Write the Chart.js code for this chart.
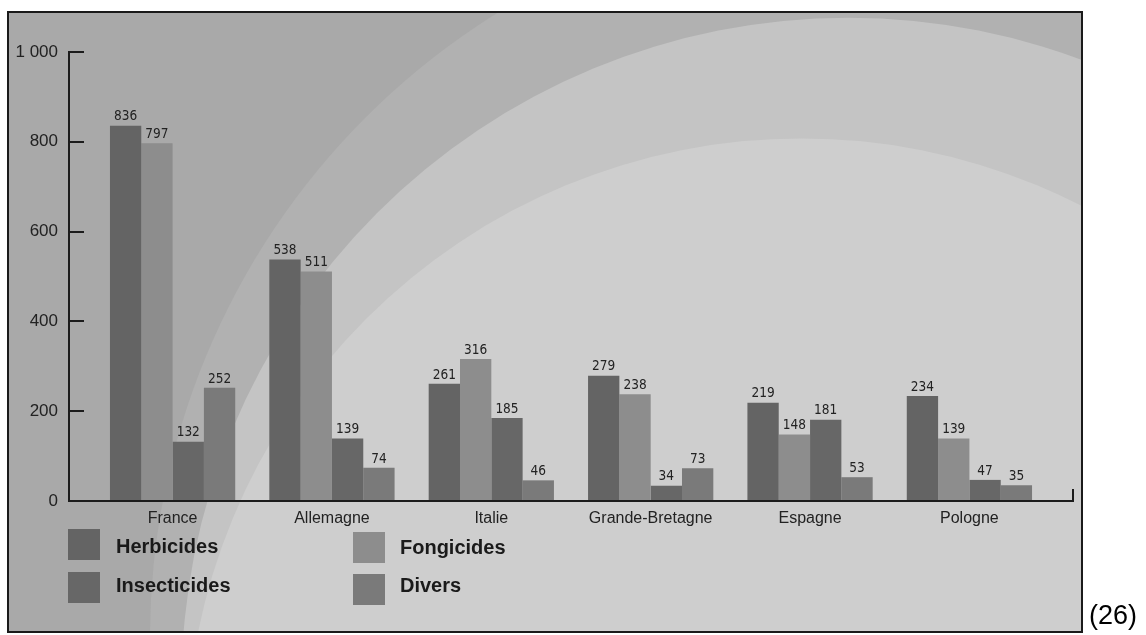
<!DOCTYPE html>
<html>
<head>
<meta charset="utf-8">
<title>Ventes de pesticides</title>
<script src="https://cdn.jsdelivr.net/npm/chart.js@4.4.1/dist/chart.umd.min.js"></script>
<style>
    html, body { margin: 0; padding: 0; background: #fff; }
    #wrap { position: relative; width: 1146px; height: 635px; }
</style>
</head>
<body>
<div id="wrap"><canvas id="pesticides-chart"></canvas></div>
<script>
    "use strict";

    var countries = ['France', 'Allemagne', 'Italie', 'Grande-Bretagne', 'Espagne', 'Pologne'];
    var herbicides = [836, 538, 261, 279, 219, 234];
    var fongicides = [797, 511, 316, 238, 148, 139];
    var insecticides = [132, 139, 185, 34, 181, 47];
    var divers = [252, 74, 46, 73, 53, 35];
    var yTicks = [0, 200, 400, 600, 800, 1000];

    var AXIS_COLOR = '#1c1c1c';
    var TEXT_COLOR = '#222222';
    var SANS = "'Liberation Sans', Arial, sans-serif";
    var NARROW = "'Liberation Sans Narrow', 'DejaVu Sans Condensed', 'Liberation Sans', sans-serif";

    function toPoints(values) {
        return values.map(function (v, i) {
            return {x: i, y: v};
        });
    }

    function spaceThousands(v) {
        return String(v).replace(/\B(?=(\d{3})+(?!\d))/g, ' ');
    }

    // framed panel with the big soft arcs behind the bars
    var panelBackground = {
        id: 'panelBackground',
        beforeDraw: function (chart) {
            var ctx = chart.ctx;
            var arcs = [
                {x: 886, y: 638, r: 736, color: '#b1b1b1'},
                {x: 848.5, y: 684.8, r: 667, color: '#c4c4c4'},
                {x: 801.5, y: 754, r: 615.6, color: '#cecece'}
            ];
            ctx.save();
            ctx.fillStyle = '#ffffff';
            ctx.fillRect(0, 0, chart.width, chart.height);
            ctx.beginPath();
            ctx.rect(8, 12, 1074, 620);
            ctx.clip();
            ctx.fillStyle = '#a9a9a9';
            ctx.fillRect(8, 12, 1074, 620);
            arcs.forEach(function (a) {
                ctx.beginPath();
                ctx.arc(a.x, a.y, a.r, 0, Math.PI * 2);
                ctx.fillStyle = a.color;
                ctx.fill();
            });
            ctx.restore();

            ctx.save();
            ctx.strokeStyle = '#1a1a1a';
            ctx.lineWidth = 2;
            ctx.strokeRect(8, 12, 1074, 620);
            ctx.restore();
        }
    };

    // value printed on top of every bar
    var barValues = {
        id: 'barValues',
        afterDatasetsDraw: function (chart) {
            var ctx = chart.ctx;
            ctx.save();
            ctx.font = '13.5px ' + NARROW;
            ctx.fillStyle = TEXT_COLOR;
            ctx.textAlign = 'center';
            ctx.textBaseline = 'bottom';
            chart.data.datasets.forEach(function (ds, di) {
                chart.getDatasetMeta(di).data.forEach(function (bar, i) {
                    ctx.fillText(String(ds.data[i].y), bar.x, bar.y - 2);
                });
            });
            ctx.restore();
        }
    };

    // small closing tick at the right end of the x axis, two column legend, note
    var extras = {
        id: 'extras',
        afterDraw: function (chart) {
            var ctx = chart.ctx;
            var area = chart.chartArea;
            ctx.save();
            ctx.strokeStyle = AXIS_COLOR;
            ctx.lineWidth = 2;
            ctx.beginPath();
            ctx.moveTo(area.right, area.bottom);
            ctx.lineTo(area.right, area.bottom - 12);
            ctx.stroke();

            var slots = [
                {x: 68, y: 529, tx: 116, ty: 547},
                {x: 353, y: 532, tx: 400, ty: 548},
                {x: 68, y: 572, tx: 116, ty: 586},
                {x: 353, y: 574, tx: 400, ty: 586}
            ];
            ctx.font = 'bold 20px ' + SANS;
            ctx.textBaseline = 'middle';
            ctx.textAlign = 'left';
            chart.data.datasets.forEach(function (ds, i) {
                var s = slots[i];
                ctx.fillStyle = ds.backgroundColor;
                ctx.fillRect(s.x, s.y, 32, 31);
                ctx.fillStyle = '#1a1a1a';
                ctx.fillText(ds.label, s.tx, s.ty);
            });

            ctx.font = '27px ' + SANS;
            ctx.fillStyle = '#000';
            ctx.textBaseline = 'alphabetic';
            ctx.fillText('(26)', 1089, 624);
            ctx.restore();
        }
    };

    var ctx = document.getElementById('pesticides-chart').getContext('2d');
    var chart = new Chart(ctx, {
        type: 'bar',
        data: {
            datasets: [{
                label: 'Herbicides', data: toPoints(herbicides), backgroundColor: '#646464'
            }, {
                label: 'Fongicides', data: toPoints(fongicides), backgroundColor: '#8d8d8d'
            }, {
                label: 'Insecticides', data: toPoints(insecticides), backgroundColor: '#676767'
            }, {
                label: 'Divers', data: toPoints(divers), backgroundColor: '#7a7a7a'
            }]
        },
        options: {
            responsive: true, maintainAspectRatio: false, animation: false, devicePixelRatio: 1,
            categoryPercentage: 0.786, barPercentage: 1.0,
            layout: {
                padding: {top: 52, right: 73, bottom: 0, left: 0}
            },
            plugins: {
                legend: {display: false},
                tooltip: {enabled: false}
            },
            scales: {
                x: {
                    type: 'linear',
                    offset: false,
                    min: -0.65, max: 5.65,
                    afterBuildTicks: function (scale) {
                        scale.ticks = countries.map(function (c, i) {
                            return {value: i};
                        });
                    },
                    afterFit: function (scale) {
                        scale.height = 134;
                    },
                    ticks: {
                        callback: function (value) {
                            return countries[value];
                        },
                        autoSkip: false, maxRotation: 0, padding: 0,
                        color: TEXT_COLOR, font: {family: SANS, size: 16}
                    },
                    grid: {display: false},
                    border: {display: true, color: AXIS_COLOR, width: 2}
                },
                y: {
                    min: 0, max: 1000,
                    afterBuildTicks: function (scale) {
                        scale.ticks = yTicks.map(function (v) {
                            return {value: v};
                        });
                    },
                    afterFit: function (scale) {
                        scale.width = 69;
                    },
                    ticks: {
                        callback: function (value) {
                            return spaceThousands(value);
                        },
                        padding: 26, color: TEXT_COLOR, font: {family: SANS, size: 17}
                    },
                    grid: {drawOnChartArea: false, drawTicks: true, tickLength: -15, color: AXIS_COLOR, lineWidth: 2},
                    border: {display: true, color: AXIS_COLOR, width: 2}
                }
            }
        },
        plugins: [panelBackground, barValues, extras]
    });
</script>
</body>
</html>
